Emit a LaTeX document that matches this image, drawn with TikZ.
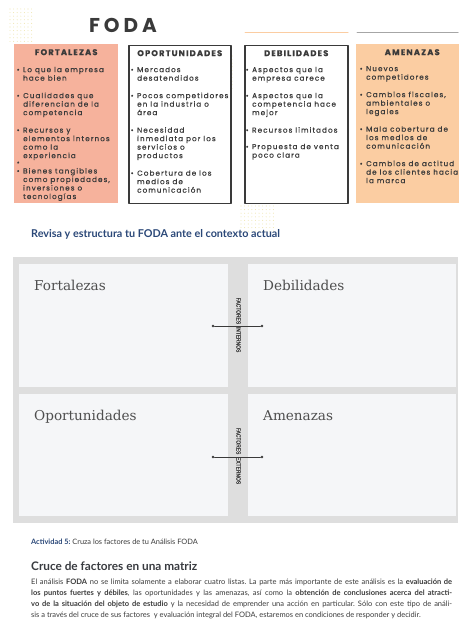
\documentclass[tikz,border=0pt]{standalone}
\usepackage{fontspec}
\setmainfont{Lato}
\newfontfamily\titlefont[LetterSpace=20]{Poppins}
\newfontfamily\headfont[LetterSpace=14, FakeBold=0.8]{Poppins}
\newfontfamily\listfont[LetterSpace=15, FakeBold=0.6]{Poppins}
\newfontfamily\slabfont{DejaVu Serif}
\newfontfamily\factfont[FakeBold=1]{Liberation Sans}
\usetikzlibrary{positioning}
\definecolor{salmon}{HTML}{F6B29C}
\definecolor{peach}{HTML}{FBCDA2}
\definecolor{ink}{HTML}{3A3A3A}
\definecolor{navy}{HTML}{2B4878}
\definecolor{framegray}{HTML}{DEDEDE}
\definecolor{panelgray}{HTML}{F5F6F8}
\definecolor{dotc}{HTML}{EFE7B5}
\newcommand{\bul}[1]{\makebox[6.5pt][l]{\textbullet}\begin{tabular}[t]{@{}l@{}}#1\end{tabular}}
\frenchspacing
\begin{document}
\begin{tikzpicture}[x=1pt, y=-1pt, line join=round, line cap=round,
	card/.style={anchor=north west, minimum width=#1, minimum height=159pt, inner sep=0pt},
	cardhead/.style={font=\headfont\bfseries\fontsize{8.3}{9}\selectfont, text=ink, inner sep=0pt},
	cardlist/.style={anchor=north west, align=left, font=\listfont\fontsize{7.2}{8.5}\selectfont, text=ink, inner sep=0pt},
	panel/.style={fill=panelgray, anchor=north west, inner sep=0pt},
	paneltitle/.style={font=\slabfont\fontsize{13.6}{15}\selectfont, text=ink!90, inner sep=0pt, anchor=north west},
	factor/.style={font=\factfont\fontsize{6}{6}\selectfont, text=ink, rotate=-90, inner sep=0pt},
	tip/.style={circle, fill=ink, inner sep=0pt, minimum size=2.6pt}]
	\useasboundingbox (0,0) rectangle (458,620);
	% dot patterns
	\foreach \i in {0,...,6} \foreach \j in {0,...,9}
	\fill[dotc] (10+\i*3.6, 9+\j*3.6) circle (0.55pt);
	\foreach \i in {0,...,9} \foreach \j in {0,...,7}
	\fill[dotc] (241+\i*3.6, 206+\j*3.6) circle (0.55pt);
	\foreach \j in {0,...,9}
	\fill[dotc] (232, 56+\j*3.6) circle (0.55pt);
	
	\node[font=\titlefont\bfseries\fontsize{20}{22}\selectfont, text=ink, inner sep=0pt] (foda) at (123,25) {FODA};
	\draw[peach, line width=1pt] (245,33) -- (348,33);
	\draw[gray!70, line width=1pt] (357,33) -- (458,33);
	
	% cards
	\node[card=104pt, fill=salmon] (fort) at (14,44) {};
	\node[card=102pt, draw=ink, line width=1.5pt, minimum height=158pt] (opor) at (128,45) {};
	\node[card=103pt, draw=ink, line width=1.5pt, minimum height=158pt] (debi) at (244,45) {};
	\node[card=112pt, fill=peach] (amen) at (356,44) {};
	\foreach \c/\t in {fort/FORTALEZAS, opor/OPORTUNIDADES, debi/DEBILIDADES, amen/AMENAZAS}
	\node[cardhead, below=5pt of \c.north] (\c-h) {\t};
	
	\node[cardlist] (fort-l) at (16.5,66) {%
		\bul{Lo que la empresa\\hace bien}\\[8pt]
		\bul{Cualidades que\\diferencian de la\\competencia}\\[8pt]
		\bul{Recursos y\\elementos internos\\como la\\experiencia}\\
		\textbullet\\
		\bul{Bienes tangibles\\como propiedades,\\inversiones o\\tecnologías}};
	\node[cardlist] (opor-l) at (130.5,66) {%
		\bul{Mercados\\desatendidos}\\[8pt]
		\bul{Pocos competidores\\en la industria o\\área}\\[8pt]
		\bul{Necesidad\\inmediata por los\\servicios o\\productos}\\[8pt]
		\bul{Cobertura de los\\medios de\\comunicación}};
	\node[cardlist] (debi-l) at (245.5,66) {%
		\bul{Aspectos que la\\empresa carece}\\[8pt]
		\bul{Aspectos que la\\competencia hace\\mejor}\\[8pt]
		\bul{Recursos limitados}\\[8pt]
		\bul{Propuesta de venta\\poco clara}};
	\node[cardlist] (amen-l) at (359.5,65) {%
		\bul{Nuevos\\competidores}\\[8pt]
		\bul{Cambios fiscales,\\ambientales o\\legales}\\[8pt]
		\bul{Mala cobertura de\\los medios de\\comunicación}\\[8pt]
		\bul{Cambios de actitud\\de los clientes hacia\\la marca}};
	
	\node[anchor=west, font=\bfseries\fontsize{10.8}{12}\selectfont, text=navy, inner sep=0pt] (revisa) at (31,234) {Revisa y estructura tu FODA ante el contexto actual};
	
	% matrix
	\fill[framegray] (13,257) rectangle (458,523);
	\node[panel, minimum width=209pt, minimum height=123pt] (fort-p) at (19,264) {};
	\node[panel, minimum width=208pt, minimum height=123pt] (debi-p) at (248,264) {};
	\node[panel, minimum width=209pt, minimum height=122pt] (opor-p) at (19,394) {};
	\node[panel, minimum width=208pt, minimum height=122pt] (amen-p) at (248,394) {};
	\foreach \c/\t in {fort/Fortalezas, debi/Debilidades, opor/Oportunidades, amen/Amenazas}
	\node[paneltitle, below right=16pt and 15pt of \c-p.north west] (\c-t) {\t};
	
	\node[factor] (ci) at (238.5,325) {\scalebox{0.82}[1]{FACTORES\ \ INTERNOS}};
	\node[factor] (ce) at (238.5,456) {\scalebox{0.82}[1]{FACTORES\ \ EXTERNOS}};
	\foreach \n/\y in {ci/326, ce/457}{
		\node[tip] (\n-l) at (213,\y) {};
		\node[tip] (\n-r) at (262,\y) {};
		\draw[line width=0.6pt, ink] (\n-l) -- (\n-r);
	}
	
	\node[anchor=west, font=\fontsize{7.4}{8}\selectfont, text=ink, inner sep=0pt] (act) at (31,542) {\textcolor{navy}{\bfseries Actividad 5:} Cruza los factores de tu Análisis FODA};
	\node[anchor=west, font=\bfseries\fontsize{11.8}{13}\selectfont, text=ink!90!navy, inner sep=0pt] (cruce) at (31,566) {Cruce de factores en una matriz};
	\node[anchor=north west, text width=421pt, align=justify, font=\fontsize{7.5}{11}\selectfont, text=ink, inner sep=0pt] (para) at (31,579) {%
		El análisis \textbf{FODA} no se limita solamente a elaborar cuatro listas. La parte más importante de este análisis es la \textbf{evaluación de}\linebreak
		\textbf{los puntos fuertes y débiles}, las oportunidades y las amenazas, así como la \textbf{obtención de conclusiones acerca del atracti-}\linebreak
		\textbf{vo de la situación del objeto de estudio} y la necesidad de emprender una acción en particular. Sólo con este tipo de análi-\linebreak
		sis a través del cruce de sus factores\ \ y evaluación integral del FODA, estaremos en condiciones de responder y decidir.};
\end{tikzpicture}
\end{document}
